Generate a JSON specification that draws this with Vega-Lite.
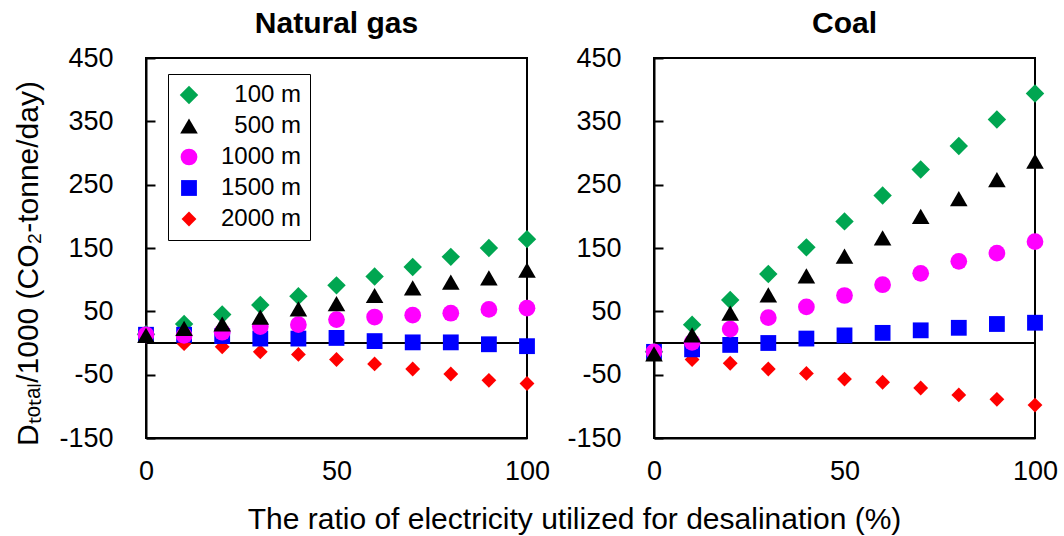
{
  "$schema": "https://vega.github.io/schema/vega-lite/v6.json",
  "padding": {"left": 11, "top": 8, "right": 5, "bottom": 0},
  "background": "white",
  "config": {
    "font": "Liberation Sans",
    "view": {"stroke": "black", "strokeWidth": 2},
    "axis": {"grid": false, "labelColor": "black", "domainColor": "black", "domainWidth": 2, "tickColor": "black", "tickWidth": 2, "labelFontSize": 27, "titleFontSize": 30, "titleFontWeight": "normal", "titleColor": "black", "labelFlush": false},
    "title": {"fontSize": 30, "fontWeight": "bold", "color": "black", "offset": 5}
  },
  "bounds": "flush",
  "spacing": 127,
  "resolve": {"legend": {"color": "independent", "shape": "independent", "size": "independent"}},
  "data": {"values": [
    {"fuel": "Natural gas", "depth": "100 m", "x": 0, "y": 14}, {"fuel": "Natural gas", "depth": "100 m", "x": 10, "y": 30}, {"fuel": "Natural gas", "depth": "100 m", "x": 20, "y": 45}, {"fuel": "Natural gas", "depth": "100 m", "x": 30, "y": 60}, {"fuel": "Natural gas", "depth": "100 m", "x": 40, "y": 74}, {"fuel": "Natural gas", "depth": "100 m", "x": 50, "y": 91}, {"fuel": "Natural gas", "depth": "100 m", "x": 60, "y": 105}, {"fuel": "Natural gas", "depth": "100 m", "x": 70, "y": 120}, {"fuel": "Natural gas", "depth": "100 m", "x": 80, "y": 136}, {"fuel": "Natural gas", "depth": "100 m", "x": 90, "y": 150}, {"fuel": "Natural gas", "depth": "100 m", "x": 100, "y": 164},
    {"fuel": "Natural gas", "depth": "2000 m", "x": 0, "y": 13}, {"fuel": "Natural gas", "depth": "2000 m", "x": 10, "y": -1}, {"fuel": "Natural gas", "depth": "2000 m", "x": 20, "y": -6}, {"fuel": "Natural gas", "depth": "2000 m", "x": 30, "y": -14}, {"fuel": "Natural gas", "depth": "2000 m", "x": 40, "y": -18}, {"fuel": "Natural gas", "depth": "2000 m", "x": 50, "y": -26}, {"fuel": "Natural gas", "depth": "2000 m", "x": 60, "y": -33}, {"fuel": "Natural gas", "depth": "2000 m", "x": 70, "y": -41}, {"fuel": "Natural gas", "depth": "2000 m", "x": 80, "y": -49}, {"fuel": "Natural gas", "depth": "2000 m", "x": 90, "y": -59}, {"fuel": "Natural gas", "depth": "2000 m", "x": 100, "y": -64},
    {"fuel": "Natural gas", "depth": "1500 m", "x": 0, "y": 13}, {"fuel": "Natural gas", "depth": "1500 m", "x": 10, "y": 13}, {"fuel": "Natural gas", "depth": "1500 m", "x": 20, "y": 11}, {"fuel": "Natural gas", "depth": "1500 m", "x": 30, "y": 7}, {"fuel": "Natural gas", "depth": "1500 m", "x": 40, "y": 7}, {"fuel": "Natural gas", "depth": "1500 m", "x": 50, "y": 8}, {"fuel": "Natural gas", "depth": "1500 m", "x": 60, "y": 3}, {"fuel": "Natural gas", "depth": "1500 m", "x": 70, "y": 1}, {"fuel": "Natural gas", "depth": "1500 m", "x": 80, "y": 1}, {"fuel": "Natural gas", "depth": "1500 m", "x": 90, "y": -2}, {"fuel": "Natural gas", "depth": "1500 m", "x": 100, "y": -5},
    {"fuel": "Natural gas", "depth": "1000 m", "x": 0, "y": 13}, {"fuel": "Natural gas", "depth": "1000 m", "x": 10, "y": 12}, {"fuel": "Natural gas", "depth": "1000 m", "x": 20, "y": 17}, {"fuel": "Natural gas", "depth": "1000 m", "x": 30, "y": 26}, {"fuel": "Natural gas", "depth": "1000 m", "x": 40, "y": 29}, {"fuel": "Natural gas", "depth": "1000 m", "x": 50, "y": 37}, {"fuel": "Natural gas", "depth": "1000 m", "x": 60, "y": 41}, {"fuel": "Natural gas", "depth": "1000 m", "x": 70, "y": 44}, {"fuel": "Natural gas", "depth": "1000 m", "x": 80, "y": 47}, {"fuel": "Natural gas", "depth": "1000 m", "x": 90, "y": 53}, {"fuel": "Natural gas", "depth": "1000 m", "x": 100, "y": 55},
    {"fuel": "Natural gas", "depth": "500 m", "x": 0, "y": 12}, {"fuel": "Natural gas", "depth": "500 m", "x": 10, "y": 23}, {"fuel": "Natural gas", "depth": "500 m", "x": 20, "y": 30}, {"fuel": "Natural gas", "depth": "500 m", "x": 30, "y": 41}, {"fuel": "Natural gas", "depth": "500 m", "x": 40, "y": 54}, {"fuel": "Natural gas", "depth": "500 m", "x": 50, "y": 62}, {"fuel": "Natural gas", "depth": "500 m", "x": 60, "y": 75}, {"fuel": "Natural gas", "depth": "500 m", "x": 70, "y": 87}, {"fuel": "Natural gas", "depth": "500 m", "x": 80, "y": 96}, {"fuel": "Natural gas", "depth": "500 m", "x": 90, "y": 103}, {"fuel": "Natural gas", "depth": "500 m", "x": 100, "y": 115},
    {"fuel": "Coal", "depth": "100 m", "x": 0, "y": -14}, {"fuel": "Coal", "depth": "100 m", "x": 10, "y": 29}, {"fuel": "Coal", "depth": "100 m", "x": 20, "y": 68}, {"fuel": "Coal", "depth": "100 m", "x": 30, "y": 109}, {"fuel": "Coal", "depth": "100 m", "x": 40, "y": 151}, {"fuel": "Coal", "depth": "100 m", "x": 50, "y": 192}, {"fuel": "Coal", "depth": "100 m", "x": 60, "y": 233}, {"fuel": "Coal", "depth": "100 m", "x": 70, "y": 274}, {"fuel": "Coal", "depth": "100 m", "x": 80, "y": 311}, {"fuel": "Coal", "depth": "100 m", "x": 90, "y": 353}, {"fuel": "Coal", "depth": "100 m", "x": 100, "y": 394},
    {"fuel": "Coal", "depth": "2000 m", "x": 0, "y": -14}, {"fuel": "Coal", "depth": "2000 m", "x": 10, "y": -26}, {"fuel": "Coal", "depth": "2000 m", "x": 20, "y": -32}, {"fuel": "Coal", "depth": "2000 m", "x": 30, "y": -41}, {"fuel": "Coal", "depth": "2000 m", "x": 40, "y": -48}, {"fuel": "Coal", "depth": "2000 m", "x": 50, "y": -57}, {"fuel": "Coal", "depth": "2000 m", "x": 60, "y": -62}, {"fuel": "Coal", "depth": "2000 m", "x": 70, "y": -71}, {"fuel": "Coal", "depth": "2000 m", "x": 80, "y": -82}, {"fuel": "Coal", "depth": "2000 m", "x": 90, "y": -89}, {"fuel": "Coal", "depth": "2000 m", "x": 100, "y": -98},
    {"fuel": "Coal", "depth": "1500 m", "x": 0, "y": -14}, {"fuel": "Coal", "depth": "1500 m", "x": 10, "y": -10}, {"fuel": "Coal", "depth": "1500 m", "x": 20, "y": -3}, {"fuel": "Coal", "depth": "1500 m", "x": 30, "y": 0}, {"fuel": "Coal", "depth": "1500 m", "x": 40, "y": 7}, {"fuel": "Coal", "depth": "1500 m", "x": 50, "y": 12}, {"fuel": "Coal", "depth": "1500 m", "x": 60, "y": 16}, {"fuel": "Coal", "depth": "1500 m", "x": 70, "y": 20}, {"fuel": "Coal", "depth": "1500 m", "x": 80, "y": 24}, {"fuel": "Coal", "depth": "1500 m", "x": 90, "y": 30}, {"fuel": "Coal", "depth": "1500 m", "x": 100, "y": 32},
    {"fuel": "Coal", "depth": "1000 m", "x": 0, "y": -14}, {"fuel": "Coal", "depth": "1000 m", "x": 10, "y": 1}, {"fuel": "Coal", "depth": "1000 m", "x": 20, "y": 22}, {"fuel": "Coal", "depth": "1000 m", "x": 30, "y": 40}, {"fuel": "Coal", "depth": "1000 m", "x": 40, "y": 57}, {"fuel": "Coal", "depth": "1000 m", "x": 50, "y": 75}, {"fuel": "Coal", "depth": "1000 m", "x": 60, "y": 92}, {"fuel": "Coal", "depth": "1000 m", "x": 70, "y": 110}, {"fuel": "Coal", "depth": "1000 m", "x": 80, "y": 129}, {"fuel": "Coal", "depth": "1000 m", "x": 90, "y": 142}, {"fuel": "Coal", "depth": "1000 m", "x": 100, "y": 160},
    {"fuel": "Coal", "depth": "500 m", "x": 0, "y": -17}, {"fuel": "Coal", "depth": "500 m", "x": 10, "y": 13}, {"fuel": "Coal", "depth": "500 m", "x": 20, "y": 47}, {"fuel": "Coal", "depth": "500 m", "x": 30, "y": 76}, {"fuel": "Coal", "depth": "500 m", "x": 40, "y": 106}, {"fuel": "Coal", "depth": "500 m", "x": 50, "y": 137}, {"fuel": "Coal", "depth": "500 m", "x": 60, "y": 166}, {"fuel": "Coal", "depth": "500 m", "x": 70, "y": 200}, {"fuel": "Coal", "depth": "500 m", "x": 80, "y": 228}, {"fuel": "Coal", "depth": "500 m", "x": 90, "y": 258}, {"fuel": "Coal", "depth": "500 m", "x": 100, "y": 287}
  ]},
  "hconcat": [
    {
      "width": 381, "height": 380,
      "title": {"text": "Natural gas"},
      "transform": [{"filter": "datum.fuel === 'Natural gas'"}],
      "layer": [
        {"data": {"values": [{}]}, "mark": {"type": "rule", "color": "black", "strokeWidth": 2}, "encoding": {"y": {"datum": 0, "type": "quantitative"}}},
        {
          "mark": {"type": "point", "filled": true, "opacity": 1},
          "encoding": {
            "x": {"field": "x", "type": "quantitative", "scale": {"domain": [0, 100], "nice": false}, "axis": {"values": [0, 50, 100], "ticks": false, "labelPadding": 20, "title": "The ratio of electricity utilized for desalination (%)", "titleX": 428, "titleY": 81, "titleBaseline": "middle", "titleAlign": "center"}},
            "y": {"field": "y", "type": "quantitative", "scale": {"domain": [-150, 450], "nice": false, "zero": false}, "axis": {"values": [-150, -50, 50, 150, 250, 350, 450], "labelExpr": "'' + datum.value", "tickSize": -9, "labelPadding": 42, "titleFontSize": 30, "titleX": -118, "titleY": 205, "titleAlign": "center", "titleBaseline": "middle", "titleAngle": -90, "title": "Dₜₒₜₐₗ/1000 (CO₂-tonne/day)"}},
            "color": {"field": "depth", "type": "nominal", "scale": {"domain": ["100 m", "500 m", "1000 m", "1500 m", "2000 m"], "range": ["#00a651", "#000000", "#ff00ff", "#0000ff", "#ff0000"]},
              "legend": {"title": null, "orient": "none", "legendX": 22, "legendY": 16, "strokeColor": "black", "padding": 9, "symbolSize": 50, "labelFontSize": 24, "labelAlign": "right", "labelOffset": 100, "rowPadding": 7, "labelLimit": 300,
                "encode": {"legend": {"update": {"strokeWidth": {"value": 1.5}}}, "labels": {"update": {"fill": {"signal": "datum.value==='100 m'?'#00a651':datum.value==='1000 m'?'#ff00ff':datum.value==='1500 m'?'#0000ff':datum.value==='2000 m'?'#ff0000':'#000000'"}}}}}},
            "shape": {"field": "depth", "type": "nominal", "scale": {"domain": ["100 m", "500 m", "1000 m", "1500 m", "2000 m"], "range": ["diamond", "triangle-up", "circle", "square", "diamond"]},
              "legend": {"title": null, "orient": "none", "legendX": 22, "legendY": 16, "strokeColor": "black", "padding": 9, "symbolSize": 50, "labelFontSize": 24, "labelAlign": "right", "labelOffset": 100, "rowPadding": 7, "labelLimit": 300,
                "encode": {"legend": {"update": {"strokeWidth": {"value": 1.5}}}, "labels": {"update": {"fill": {"signal": "datum.value==='100 m'?'#00a651':datum.value==='1000 m'?'#ff00ff':datum.value==='1500 m'?'#0000ff':datum.value==='2000 m'?'#ff0000':'#000000'"}}}}}},
            "size": {"field": "depth", "type": "nominal", "scale": {"domain": ["100 m", "500 m", "1000 m", "1500 m", "2000 m"], "range": [340, 220, 175, 230, 260]}, "legend": null}
          }
        }
      ]
    },
    {
      "width": 381, "height": 380,
      "title": {"text": "Coal"},
      "transform": [{"filter": "datum.fuel === 'Coal'"}],
      "layer": [
        {"data": {"values": [{}]}, "mark": {"type": "rule", "color": "black", "strokeWidth": 2}, "encoding": {"y": {"datum": 0, "type": "quantitative"}}},
        {
          "mark": {"type": "point", "filled": true, "opacity": 1},
          "encoding": {
            "x": {"field": "x", "type": "quantitative", "scale": {"domain": [0, 100], "nice": false}, "axis": {"values": [0, 50, 100], "ticks": false, "labelPadding": 20, "title": null}},
            "y": {"field": "y", "type": "quantitative", "scale": {"domain": [-150, 450], "nice": false, "zero": false}, "axis": {"values": [-150, -50, 50, 150, 250, 350, 450], "labelExpr": "'' + datum.value", "tickSize": -9, "labelPadding": 42, "title": null}},
            "color": {"field": "depth", "type": "nominal", "scale": {"domain": ["100 m", "500 m", "1000 m", "1500 m", "2000 m"], "range": ["#00a651", "#000000", "#ff00ff", "#0000ff", "#ff0000"]}, "legend": null},
            "shape": {"field": "depth", "type": "nominal", "scale": {"domain": ["100 m", "500 m", "1000 m", "1500 m", "2000 m"], "range": ["diamond", "triangle-up", "circle", "square", "diamond"]}, "legend": null},
            "size": {"field": "depth", "type": "nominal", "scale": {"domain": ["100 m", "500 m", "1000 m", "1500 m", "2000 m"], "range": [340, 220, 175, 230, 260]}, "legend": null}
          }
        }
      ]
    }
  ]
}
